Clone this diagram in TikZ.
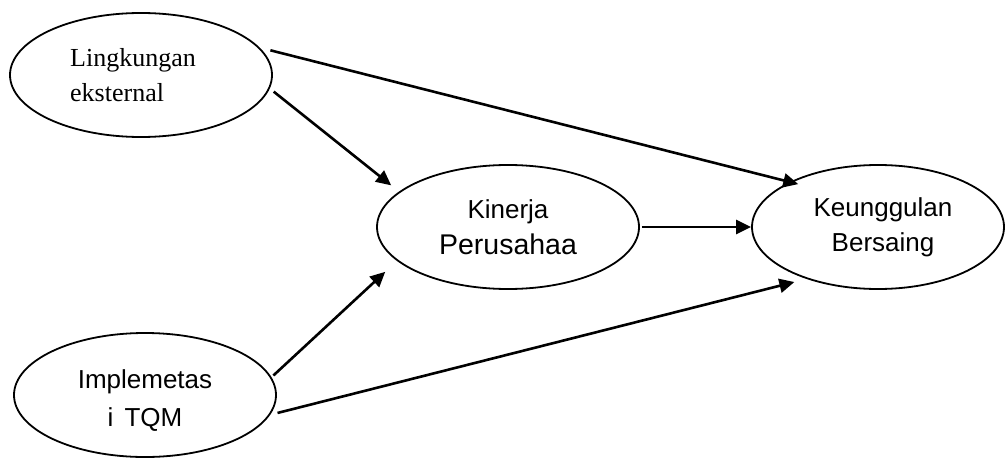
\documentclass[tikz,border=0pt]{standalone}
\usepackage{fontspec}
\setmainfont{Liberation Serif}
\newfontfamily\arialfont{Liberation Sans}
\usetikzlibrary{arrows.meta,shapes.geometric}
\begin{document}
\begin{tikzpicture}[x=1pt,y=-1pt,
  latent/.style={ellipse,draw,line width=1.8pt,inner sep=0pt,
    minimum width=262pt,minimum height=124pt,align=center},
  ku/.style={latent,minimum width=252pt},
  sanstext/.style={font=\arialfont\fontsize{26}{36}\selectfont},
  link/.style={line width=2.6pt,-{Triangle[length=15pt,width=14pt]}},
]
\useasboundingbox (0,0) rectangle (1006,460);
\node[latent,align=left,font=\fontsize{26}{35}\selectfont] (lk) at (141,75)
  {Lingkungan\hspace*{16pt}\\eksternal};
\node[latent,sanstext] (kp) at (508,227)
  {Kinerja\\{\fontsize{28.5}{36}\selectfont Perusahaa}};
\node[ku,font=\arialfont\fontsize{26}{35}\selectfont] (ku) at (878,227)
  {\hspace*{10pt}Keunggulan\\\hspace*{10pt}Bersaing};
\node[latent,font=\arialfont\fontsize{26}{38}\selectfont] (im) at (145,395)
  {\rule{0pt}{30pt}Implemetas\\i\hspace{11pt}TQM};
\draw[link, shorten <=11pt, shorten >=-9pt] (lk.13) -- (ku.153.7);
\draw[link, shorten <=5pt, shorten >=10pt] (lk.-6) -- (kp.162);
\draw[link, shorten <=2.5pt, shorten >=16pt] (im.8) -- (kp.197.3);
\draw[link, shorten <=7.6pt, shorten >=12.5pt] (im.-9.5) -- (ku.216.4);
\draw[link, shorten <=2pt] (kp.0) -- (ku.180);
\end{tikzpicture}
\end{document}
